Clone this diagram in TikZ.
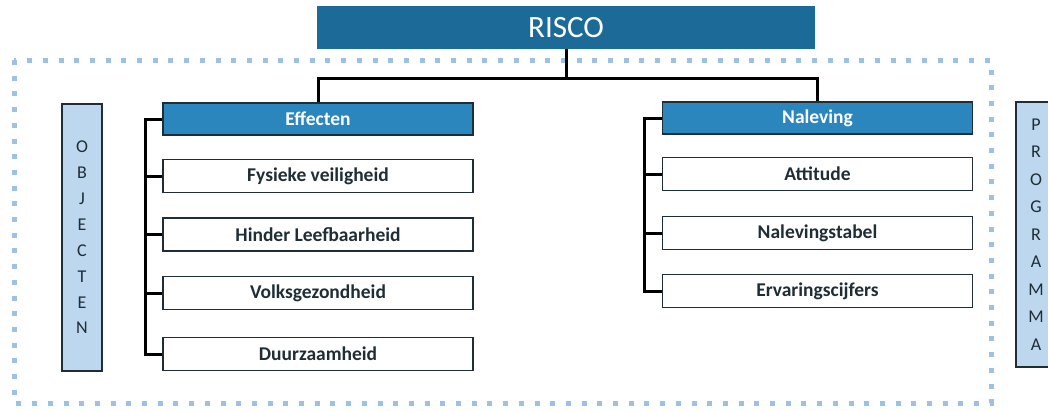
\documentclass[tikz,border=0pt]{standalone}
\usepackage{fontspec}
\setmainfont{Carlito}
\newfontfamily\cf{Carlito}
\definecolor{riscoblue}{HTML}{1B6A97}
\definecolor{headblue}{HTML}{2A86BD}
\definecolor{sideblue}{HTML}{BDD7EE}
\definecolor{dotblue}{HTML}{9DC0E6}
\definecolor{txt}{HTML}{1E2D36}
\begin{document}
\begin{tikzpicture}[x=1pt,y=-1pt,
  conn/.style={line width=3pt,black,line join=miter},
  headbox/.style={draw=txt,line width=1.8pt,fill=headblue,minimum width=310pt,minimum height=32pt,inner sep=0pt,text=white,font=\cf\bfseries\fontsize{19.5}{22}\selectfont},
  itembox/.style={draw=txt,line width=1.8pt,fill=white,minimum width=310pt,minimum height=33pt,inner sep=0pt,text=txt,font=\cf\bfseries\fontsize{19.5}{22}\selectfont},
  sidebox/.style={draw=txt,line width=1.8pt,fill=sideblue,minimum width=40pt,inner sep=0pt,text=txt,align=center}
]
\useasboundingbox (0,0) rectangle (1048,410);
\clip (0,0) rectangle (1048,410);
% dotted frame
\draw[dotblue,line width=5pt,dash pattern=on 5pt off 10.7pt] (14,60) rectangle (991,403);
% top node
\node[fill=riscoblue,minimum width=498pt,minimum height=43pt,inner sep=0pt,text=white,font=\cf\fontsize{31}{34}\selectfont] (risco) at (566,27.5) {RISCO};
% left column
\node[headbox] (eff) at (318,119) {Effecten};
\node[itembox] (fys) at (318,176) {Fysieke veiligheid};
\node[itembox] (hin) at (318,234.5) {Hinder Leefbaarheid};
\node[itembox] (vol) at (318,293) {Volksgezondheid};
\node[itembox] (duu) at (318,354) {Duurzaamheid};
% right column
\node[headbox] (nal) at (817.5,118) {Naleving};
\node[itembox] (att) at (817.5,174) {Attitude};
\node[itembox] (nst) at (817.5,233) {Nalevingstabel};
\node[itembox] (erv) at (817.5,291) {Ervaringscijfers};
% side boxes
\node[sidebox,minimum height=267pt,font=\cf\fontsize{18}{25.9}\selectfont] (obj) at (82,237.5) {O\\B\\J\\E\\C\\T\\E\\N};
\node[sidebox,minimum height=265pt,font=\cf\fontsize{18}{27.5}\selectfont] (prog) at (1036,234.5) {P\\R\\O\\G\\R\\A\\M\\M\\A};
% connectors
\coordinate (hub) at (566,78);
\coordinate (lb) at (145,0);
\coordinate (rb) at (644,0);
\draw[conn] (risco.south) -- (hub);
\draw[conn] (eff.north) |- (hub) -| (nal.north);
\draw[conn] (eff.west) -| (lb |- duu.west) -- (duu.west);
\draw[conn] (fys.west) -- (fys.west -| lb);
\draw[conn] (hin.west) -- (hin.west -| lb);
\draw[conn] (vol.west) -- (vol.west -| lb);
\draw[conn] (nal.west) -| (rb |- erv.west) -- (erv.west);
\draw[conn] (att.west) -- (att.west -| rb);
\draw[conn] (nst.west) -- (nst.west -| rb);
\end{tikzpicture}
\end{document}
